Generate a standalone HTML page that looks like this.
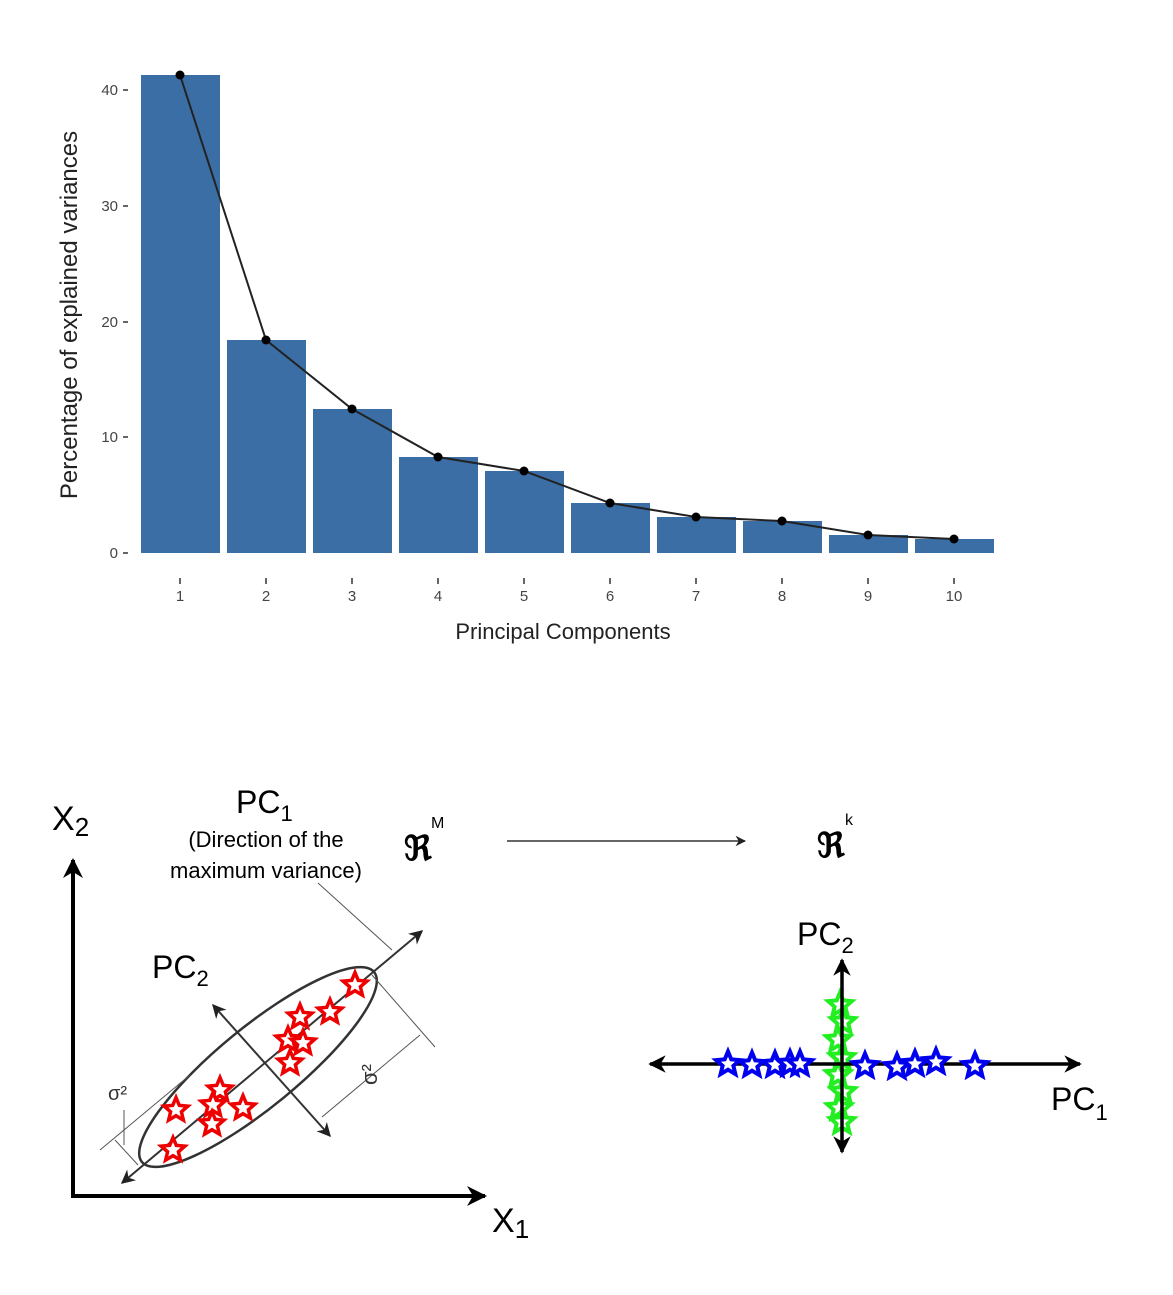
<!DOCTYPE html>
<html><head><meta charset="utf-8"><style>
body{margin:0;background:#fff}
svg{display:block}
text{font-family:"Liberation Sans",sans-serif}
</style></head><body>
<svg width="1173" height="1295" viewBox="0 0 1173 1295" xmlns="http://www.w3.org/2000/svg">
<defs>
<marker id="ah" viewBox="0 0 10 10" refX="9" refY="5" markerWidth="7" markerHeight="7" orient="auto-start-reverse"><path d="M0,0 L10,5 L0,10 L3,5Z" fill="#222"/></marker>
<marker id="ahb" viewBox="0 0 10 10" refX="9" refY="5" markerWidth="5" markerHeight="5" orient="auto-start-reverse"><path d="M0,0 L10,5 L0,10 L3,5Z" fill="#000"/></marker>
<path id="st" d="M0,-12.5 L3.3,-4.6 L11.9,-3.9 L5.4,1.8 L7.4,10.1 L0,5.7 L-7.4,10.1 L-5.4,1.8 L-11.9,-3.9 L-3.3,-4.6Z"/>
</defs>
<g fill="#3a6ea5">
<rect x="141" y="75" width="79" height="478"/>
<rect x="227" y="340" width="79" height="213"/>
<rect x="313" y="409" width="79" height="144"/>
<rect x="399" y="457" width="79" height="96"/>
<rect x="485" y="471" width="79" height="82"/>
<rect x="571" y="503" width="79" height="50"/>
<rect x="657" y="517" width="79" height="36"/>
<rect x="743" y="521" width="79" height="32"/>
<rect x="829" y="535" width="79" height="18"/>
<rect x="915" y="539" width="79" height="14"/>
</g>
<polyline fill="none" stroke="#222" stroke-width="2" points="180,75 266,340 352,409 438,457 524,471 610,503 696,517 782,521 868,535 954,539"/>
<g fill="#000">
<circle cx="180" cy="75" r="4.5"/><circle cx="266" cy="340" r="4.5"/><circle cx="352" cy="409" r="4.5"/><circle cx="438" cy="457" r="4.5"/><circle cx="524" cy="471" r="4.5"/><circle cx="610" cy="503" r="4.5"/><circle cx="696" cy="517" r="4.5"/><circle cx="782" cy="521" r="4.5"/><circle cx="868" cy="535" r="4.5"/><circle cx="954" cy="539" r="4.5"/>
</g>
<g stroke="#333" stroke-width="1.5">
<line x1="123" y1="90" x2="128" y2="90"/><line x1="123" y1="206" x2="128" y2="206"/><line x1="123" y1="322" x2="128" y2="322"/><line x1="123" y1="437" x2="128" y2="437"/><line x1="123" y1="553" x2="128" y2="553"/>
<line x1="180" y1="578" x2="180" y2="584"/><line x1="266" y1="578" x2="266" y2="584"/><line x1="352" y1="578" x2="352" y2="584"/><line x1="438" y1="578" x2="438" y2="584"/><line x1="524" y1="578" x2="524" y2="584"/><line x1="610" y1="578" x2="610" y2="584"/><line x1="696" y1="578" x2="696" y2="584"/><line x1="782" y1="578" x2="782" y2="584"/><line x1="868" y1="578" x2="868" y2="584"/><line x1="954" y1="578" x2="954" y2="584"/>
</g>
<g font-size="15" fill="#444" text-anchor="end">
<text x="118" y="95">40</text><text x="118" y="211">30</text><text x="118" y="327">20</text><text x="118" y="442">10</text><text x="118" y="558">0</text>
</g>
<g font-size="15" fill="#444" text-anchor="middle">
<text x="180" y="601">1</text><text x="266" y="601">2</text><text x="352" y="601">3</text><text x="438" y="601">4</text><text x="524" y="601">5</text><text x="610" y="601">6</text><text x="696" y="601">7</text><text x="782" y="601">8</text><text x="868" y="601">9</text><text x="954" y="601">10</text>
</g>
<text x="563" y="639" font-size="22" text-anchor="middle" fill="#222">Principal Components</text>
<text transform="translate(77,315) rotate(-90)" font-size="24" text-anchor="middle" fill="#222">Percentage of explained variances</text>

<line x1="73" y1="1198" x2="73" y2="860" stroke="#000" stroke-width="4" marker-end="url(#ahb)"/>
<line x1="71" y1="1196" x2="485" y2="1196" stroke="#000" stroke-width="4" marker-end="url(#ahb)"/>
<text x="52" y="830" font-size="34">X<tspan font-size="26" dy="6">2</tspan></text>
<text x="492" y="1232" font-size="34">X<tspan font-size="26" dy="6">1</tspan></text>
<text x="236" y="813" font-size="32">PC<tspan font-size="22" dy="8">1</tspan></text>
<text x="266" y="847" font-size="22" text-anchor="middle">(Direction of the</text>
<text x="266" y="878" font-size="22" text-anchor="middle">maximum variance)</text>
<text x="152" y="978" font-size="32">PC<tspan font-size="22" dy="8">2</tspan></text>
<text x="404" y="860" font-size="34" font-family="Liberation Serif,serif" font-weight="bold">ℜ</text>
<text x="431" y="828" font-size="16" font-family="Liberation Serif,serif">M</text>
<ellipse cx="258" cy="1067" rx="150" ry="40" transform="rotate(-39.3 258 1067)" fill="none" stroke="#333" stroke-width="2.5"/>
<line x1="122" y1="1183" x2="422" y2="931" stroke="#333" stroke-width="2" marker-start="url(#ah)" marker-end="url(#ah)"/>
<line x1="213" y1="1005" x2="330" y2="1136" stroke="#333" stroke-width="2" marker-start="url(#ah)" marker-end="url(#ah)"/>
<g stroke="#555" stroke-width="1" fill="none">
<line x1="318" y1="883" x2="392" y2="950"/>
<line x1="372" y1="975" x2="435" y2="1047"/>
<line x1="322" y1="1117" x2="420" y2="1035"/>
<line x1="100" y1="1150" x2="190" y2="1075"/>
<line x1="115" y1="1140" x2="138" y2="1165"/>
<line x1="124" y1="1145" x2="124" y2="1110"/>
</g>
<text x="352" y="1090" font-size="22" font-family="Liberation Serif,serif" transform="rotate(-90 362 1075)" fill="#333">σ²</text>
<text x="108" y="1100" font-size="20" font-family="Liberation Serif,serif" fill="#333">σ²</text>
<g fill="#fff" stroke="#e00" stroke-width="3.5">
<use href="#st" x="355" y="985"/><use href="#st" x="330" y="1012"/><use href="#st" x="300" y="1017"/><use href="#st" x="288" y="1040"/><use href="#st" x="303" y="1043"/><use href="#st" x="290" y="1063"/><use href="#st" x="220" y="1090"/><use href="#st" x="213" y="1105"/><use href="#st" x="176" y="1110"/><use href="#st" x="243" y="1108"/><use href="#st" x="212" y="1124"/><use href="#st" x="173" y="1150"/>
</g>

<line x1="507" y1="841" x2="745" y2="841" stroke="#333" stroke-width="1.5" marker-end="url(#ah)"/>
<text x="817" y="857" font-size="34" font-family="Liberation Serif,serif" font-weight="bold">ℜ</text>
<text x="845" y="825" font-size="16" font-family="Liberation Serif,serif">k</text>

<g fill="#fff" stroke="#2e2" stroke-width="4">
<use href="#st" x="840" y="1005"/><use href="#st" x="843" y="1022"/><use href="#st" x="838" y="1040"/><use href="#st" x="842" y="1058"/><use href="#st" x="838" y="1075"/><use href="#st" x="843" y="1092"/><use href="#st" x="839" y="1108"/><use href="#st" x="842" y="1122"/>
</g>
<line x1="650" y1="1064" x2="1080" y2="1064" stroke="#000" stroke-width="3.5" marker-start="url(#ahb)" marker-end="url(#ahb)"/>
<line x1="842" y1="960" x2="842" y2="1152" stroke="#000" stroke-width="3.5" marker-start="url(#ahb)" marker-end="url(#ahb)"/>
<g fill="#fff" stroke="#00e" stroke-width="4">
<use href="#st" x="728" y="1064"/><use href="#st" x="752" y="1065"/><use href="#st" x="775" y="1065"/><use href="#st" x="790" y="1064"/><use href="#st" x="800" y="1064"/><use href="#st" x="865" y="1066"/><use href="#st" x="897" y="1067"/><use href="#st" x="915" y="1064"/><use href="#st" x="936" y="1062"/><use href="#st" x="975" y="1066"/>
</g>
<text x="797" y="945" font-size="32">PC<tspan font-size="22" dy="8">2</tspan></text>
<text x="1051" y="1110" font-size="32">PC<tspan font-size="22" dy="10">1</tspan></text>
</svg>
</body></html>
